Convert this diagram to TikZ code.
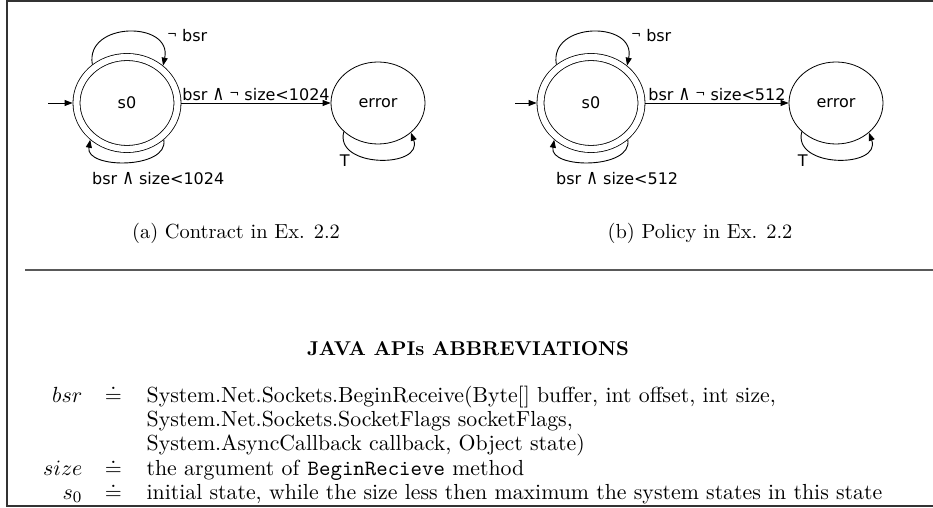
\documentclass[tikz,border=0pt]{standalone}
\usepackage{fontspec}
\usepackage{graphicx}
\newfontfamily\autfont{DejaVu Sans}
\usetikzlibrary{arrows.meta,shapes.geometric,positioning}

\newcommand{\andsym}{\scalebox{1}[1.3]{∧}}
\newcommand{\negsym}{\raisebox{1.6pt}{\fontsize{6}{6}\selectfont ¬}}
\newcommand{\abbrkey}[1]{\makebox[30pt][r]{$#1$}}

\tikzset{
  stnode/.style={ellipse, draw, line width=0.4pt, inner sep=0pt,
    minimum width=47pt, minimum height=41pt,
    font=\autfont\fontsize{8}{9}\selectfont},
  finalst/.style={double, double distance=3.1pt, outer sep=1.95pt,
    minimum width=50.5pt, minimum height=46pt},
  trans/.style={-{Triangle[length=4pt,width=3pt]}, line width=0.45pt},
  lbl/.style={font=\autfont\fontsize{8}{9}\selectfont, inner sep=1pt},
  capt/.style={font=\fontsize{10.2}{12}\selectfont, inner sep=0pt},
  gloss/.style={font=\fontsize{10.9}{12.2}\selectfont, inner sep=0pt},
  framel/.style={line width=0.8pt, black!80},
  seprule/.style={line width=1pt, black!65},
}

\begin{document}
\begin{tikzpicture}[x=0.5pt,y=0.5pt]
\useasboundingbox (0,0) rectangle (933,-508);
% frame and rule
\draw[framel] (933,-1) -- (7,-1) -- (7,-506) -- (933,-506);
\draw[seprule] (25,-270) -- (933,-270);

% (a) contract
\node[stnode, finalst] (s0a) at (127,-103) {s0};
\node[stnode] (erra) at (378,-103) {error};
\coordinate (inita) at (48,-103);
\draw[trans] (inita) -- (s0a);
\draw[trans] (s0a) -- node[lbl, above] {bsr \andsym{} \negsym{} size<1024} (erra);
\draw[trans] (s0a.132) .. controls +(100:44) and +(78:46) .. node[lbl, pos=0.8, anchor=south west, xshift=3pt] {\negsym{} bsr} (s0a.46);
\draw[trans] (s0a.-45) .. controls +(-80:30) and +(-100:30) .. node[lbl, pos=0.3, below=6pt, xshift=4.5pt] {bsr \andsym{} size<1024} (s0a.-135);
\draw[trans] (erra.-140) .. controls +(-105:38) and +(-70:38) .. node[lbl, pos=0.25, anchor=north east] {T} (erra.-42);
\node[capt] (capa) at (236,-233) {(a) Contract in Ex. 2.2};

% (b) policy
\node[stnode, finalst] (s0b) at (591,-103) {s0};
\node[stnode] (errb) at (836,-103) {error};
\coordinate (initb) at (515,-103);
\draw[trans] (initb) -- (s0b);
\draw[trans] (s0b) -- node[lbl, above] {bsr \andsym{} \negsym{} size<512} (errb);
\draw[trans] (s0b.132) .. controls +(100:44) and +(78:46) .. node[lbl, pos=0.8, anchor=south west, xshift=3pt] {\negsym{} bsr} (s0b.46);
\draw[trans] (s0b.-45) .. controls +(-80:30) and +(-100:30) .. node[lbl, pos=0.3, below=6pt, xshift=2pt] {bsr \andsym{} size<512} (s0b.-135);
\draw[trans] (errb.-140) .. controls +(-105:38) and +(-70:38) .. node[lbl, pos=0.25, anchor=north east] {T} (errb.-42);
\node[capt] (capb) at (700,-233) {(b) Policy in Ex. 2.2};

% abbreviations
\node[gloss, anchor=base] (title) at (468,-355) {\fontsize{10}{12}\selectfont\textbf{JAVA APIs ABBREVIATIONS}};
\node[gloss, anchor=base west] (abbr) at (22,-402) {%
  \begin{tabular}[t]{@{}l@{\hspace{11.3pt}}c@{\hspace{12.3pt}}l@{}}
  \abbrkey{bsr} & $\doteq$ & System.Net.Sockets.BeginReceive(Byte[] buffer, int offset, int size,\\
  & & System.Net.Sockets.SocketFlags socketFlags,\\
  & & System.AsyncCallback callback, Object state)\\
  \abbrkey{size} & $\doteq$ & the argument of \texttt{BeginRecieve} method\\
  \abbrkey{s_0} & $\doteq$ & initial state, while the size less then maximum the system states in this state
  \end{tabular}};
\end{tikzpicture}
\end{document}
